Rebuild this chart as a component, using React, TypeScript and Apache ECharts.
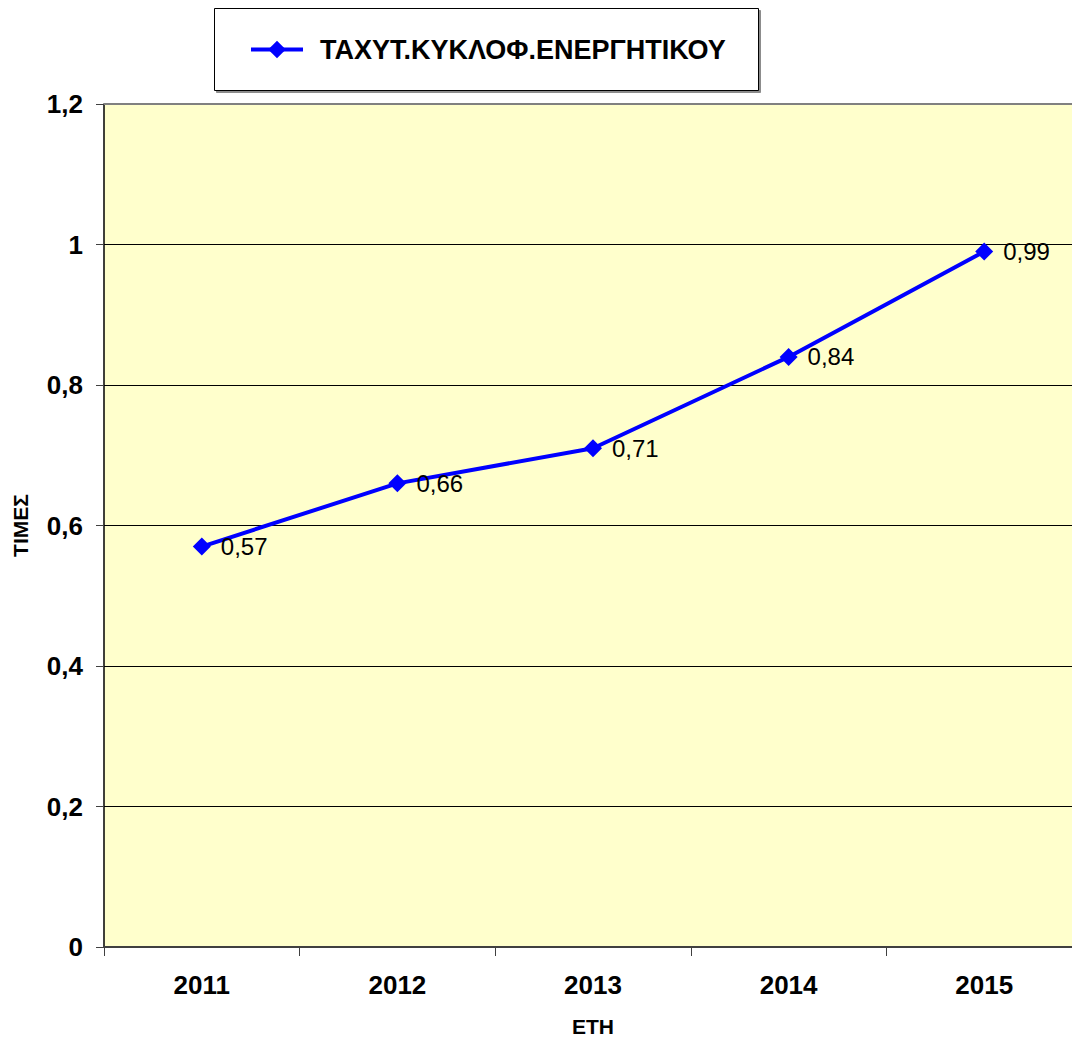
import React, { useEffect, useRef } from "react";
import * as echarts from "echarts";

const categories = ["2011", "2012", "2013", "2014", "2015"];
const values = [0.57, 0.66, 0.71, 0.84, 0.99];
const seriesName = "ΤΑΧΥΤ.ΚΥΚΛΟΦ.ΕΝΕΡΓΗΤΙΚΟΥ";
const yTitle = "ΤΙΜΕΣ";
const xTitle = "ΕΤΗ";

const fmt = (v: number) => String(v).replace(".", ",");
const FONT = "Liberation Sans, Arial, sans-serif";

export default function App() {
  const ref = useRef<HTMLDivElement>(null);
  useEffect(() => {
    const chart = echarts.init(ref.current!, null, { renderer: "svg" });
    chart.setOption({
      animation: false,
      backgroundColor: "#FFFFFF",
      textStyle: { fontFamily: FONT },
      graphic: [
        {
          type: "rect",
          z: 0,
          shape: { x: 214.5, y: 8.5, width: 544, height: 82 },
          style: {
            fill: "#FFFFFF",
            stroke: "#000000",
            lineWidth: 1,
            shadowColor: "rgba(0,0,0,0.45)",
            shadowOffsetX: 2,
            shadowOffsetY: 2,
            shadowBlur: 0,
          },
        },
        {
          type: "line",
          z: 5,
          shape: { x1: 104, y1: 104, x2: 1072, y2: 104 },
          style: { stroke: "#808080", lineWidth: 2 },
        },
      ],
      legend: {
        z: 10,
        left: 249,
        top: 36,
        itemWidth: 52,
        itemHeight: 22,
        padding: 0,
        data: [seriesName],
        lineStyle: { width: 4, color: "#0000FF" },
        textStyle: {
          fontFamily: FONT,
          fontSize: 27,
          fontWeight: "bold",
          color: "#000000",
          padding: [0, 0, 0, 12],
        },
      },
      grid: {
        left: 104,
        right: -10,
        top: 104,
        bottom: 94,
        show: true,
        backgroundColor: "#FFFFCC",
        borderWidth: 0,
        containLabel: false,
        outerBoundsMode: "none",
      },
      xAxis: {
        type: "category",
        data: categories,
        boundaryGap: true,
        name: xTitle,
        nameLocation: "middle",
        nameGap: 69,
        nameTextStyle: { fontFamily: FONT, fontSize: 21, fontWeight: "bold", color: "#000" },
        axisLine: { show: true, lineStyle: { color: "#404040", width: 2 } },
        axisTick: { show: true, length: 9, lineStyle: { color: "#404040", width: 1 } },
        axisLabel: { margin: 25, fontFamily: FONT, fontSize: 26, fontWeight: "bold", color: "#000" },
        splitLine: { show: false },
      },
      yAxis: {
        type: "value",
        min: 0,
        max: 1.2,
        interval: 0.2,
        name: yTitle,
        nameLocation: "middle",
        nameGap: 73,
        nameRotate: 90,
        nameTextStyle: { fontFamily: FONT, fontSize: 21, fontWeight: "bold", color: "#000" },
        axisLine: { show: true, lineStyle: { color: "#000000", width: 1.5 } },
        axisTick: { show: true, length: 8, lineStyle: { color: "#404040", width: 1 } },
        axisLabel: {
          margin: 21,
          fontFamily: FONT,
          fontSize: 26,
          fontWeight: "bold",
          color: "#000",
          formatter: (v: number) => fmt(Math.round(v * 10) / 10),
        },
        splitLine: { show: true, lineStyle: { color: "#000000", width: 1 } },
      },
      series: [
        {
          name: seriesName,
          type: "line",
          data: values,
          symbol: "diamond",
          symbolSize: 18,
          lineStyle: { color: "#0000FF", width: 4 },
          itemStyle: { color: "#0000FF" },
          label: {
            show: true,
            position: "right",
            distance: 10,
            fontFamily: FONT,
            fontSize: 24,
            color: "#000",
            formatter: (p: any) => fmt(p.value),
          },
        },
      ],
    });
    return () => chart.dispose();
  }, []);
  return (
    <div
      ref={ref}
      style={{ position: "fixed", left: 0, top: 0, width: 1072, height: 1041 }}
    />
  );
}
